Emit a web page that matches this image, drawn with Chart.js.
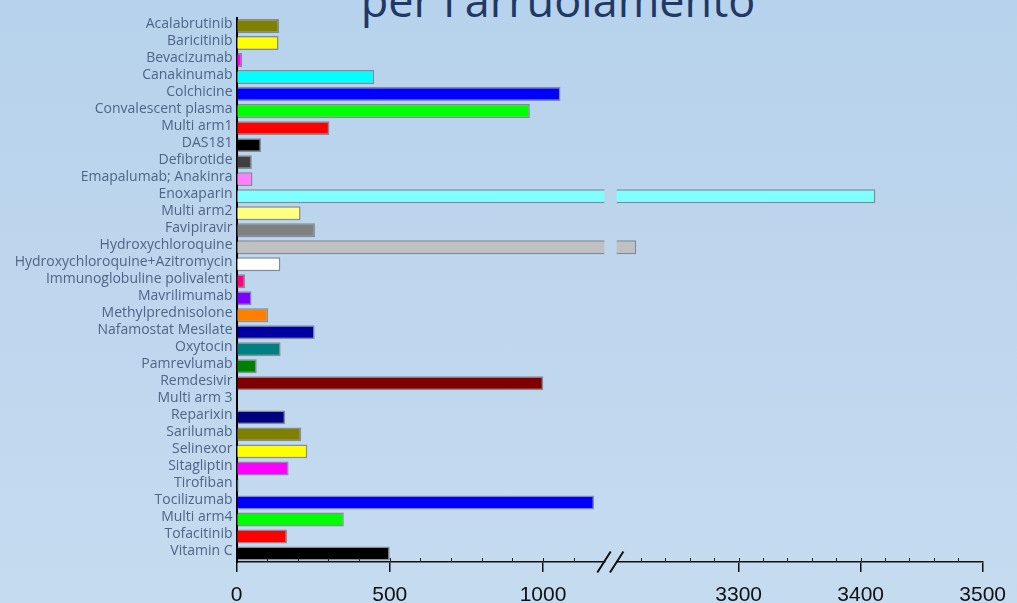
<!DOCTYPE html>
<html>
<head>
    <title>Studi per l'arruolamento</title>
    <script src="https://cdn.jsdelivr.net/npm/chart.js"></script>
    <style>
        body {
            margin: 0;
            width: 1017px;
            height: 603px;
            overflow: hidden;
            position: relative;
            background: linear-gradient(#b7d2ec, #c5dbf0);
        }
        .title {
            position: absolute;
            left: 558px;
            top: -23px;
            transform: translateX(-50%);
            white-space: nowrap;
            font-family: 'Open Sans', sans-serif;
            font-size: 45px;
            line-height: 45px;
            color: #1f3864;
        }
        canvas { position: absolute; left: 0; top: 0; }
    </style>
</head>
<body>
    <div class="title">per l'arruolamento</div>
    <canvas id="leftChart" width="1017" height="603"></canvas>
    <canvas id="rightChart" width="1017" height="603"></canvas>

    <script>
        // Data
        const drugs = [
            'Acalabrutinib', 'Baricitinib', 'Bevacizumab', 'Canakinumab', 'Colchicine',
            'Convalescent plasma', 'Multi arm1', 'DAS181', 'Defibrotide', 'Emapalumab; Anakinra',
            'Enoxaparin', 'Multi arm2', 'Favipiravir', 'Hydroxychloroquine',
            'Hydroxychloroquine+Azitromycin', 'Immunoglobuline polivalenti', 'Mavrilimumab',
            'Methylprednisolone', 'Nafamostat Mesilate', 'Oxytocin', 'Pamrevlumab', 'Remdesivir',
            'Multi arm 3', 'Reparixin', 'Sarilumab', 'Selinexor', 'Sitagliptin', 'Tirofiban',
            'Tocilizumab', 'Multi arm4', 'Tofacitinib', 'Vitamin C'
        ];
        const enrolled = [
            139, 137, 18, 449, 1057,
            957, 303, 80, 50, 52,
            3412, 209, 256, 3216,
            143, 28, 49,
            103, 255, 144, 66, 1001,
            0, 159, 211, 231, 170, 7,
            1167, 350, 165, 500
        ];
        const barColors = [
            '#808000', '#ffff00', '#ff00ff', '#00ffff', '#0000ff',
            '#00ff00', '#ff0000', '#000000', '#404040', '#ff80ff',
            '#80ffff', '#ffff80', '#808080', '#c0c0c0',
            '#ffffff', '#ff0080', '#8000ff',
            '#ff8000', '#0000a0', '#008080', '#008000', '#800000',
            '#000000', '#000080', '#808000', '#ffff00', '#ff00ff', '#00c0c0',
            '#0000ff', '#00ff00', '#ff0000', '#000000'
        ];

        // Broken x axis: two ranges, each with its own labelled ticks
        const leftRange = [0, 1200];
        const rightRange = [3200, 3500];
        const leftTicks = [0, 500, 1000];
        const rightTicks = [3300, 3400, 3500];

        const labelColor = '#4e6585';

        // small upward ticks between the labelled ones
        const minorTicks = {
            id: 'minorTicks',
            afterDraw(chart, args, opts) {
                const x = chart.scales.x;
                const ctx = chart.ctx;
                ctx.save();
                ctx.strokeStyle = '#222';
                ctx.lineWidth = 1;
                ctx.beginPath();
                for (let v = x.min + opts.step; v < x.max; v += opts.step) {
                    const px = Math.round(x.getPixelForValue(v)) + 0.5;
                    ctx.moveTo(px, x.top);
                    ctx.lineTo(px, x.top - 4);
                }
                ctx.stroke();
                ctx.restore();
            }
        };

        // the "//" marks where the axis is cut
        const axisBreak = {
            id: 'axisBreak',
            afterDraw(chart) {
                const x = chart.scales.x;
                const ctx = chart.ctx;
                const y = x.top;
                ctx.save();
                ctx.strokeStyle = '#111';
                ctx.lineWidth = 2;
                ctx.beginPath();
                [x.left - 12.7, x.left].forEach(cx => {
                    ctx.moveTo(cx - 6.7, y + 10.5);
                    ctx.lineTo(cx + 6.7, y - 10.5);
                });
                ctx.stroke();
                ctx.restore();
            }
        };

        function barDataset() {
            return {
                data: enrolled,
                backgroundColor: barColors,
                borderColor: 'rgba(80, 80, 80, 0.55)',
                borderWidth: 1.5,
                barPercentage: 0.82,
                categoryPercentage: 1,
                clip: 0
            };
        }

        function xAxis(range, tickValues) {
            return {
                type: 'linear',
                min: range[0],
                max: range[1],
                afterBuildTicks: s => { s.ticks = tickValues.map(v => ({ value: v })); },
                afterFit: s => { s.height = 41; },
                grid: { drawOnChartArea: false, drawTicks: true, tickLength: 10, color: '#111', lineWidth: 1.5 },
                border: { display: true, color: '#111', width: 1.5 },
                ticks: {
                    color: '#111',
                    font: { family: 'Liberation Sans', size: 21 },
                    padding: 11,
                    maxRotation: 0,
                    callback: v => String(v)
                }
            };
        }

        const common = {
            indexAxis: 'y',
            responsive: false,
            animation: false,
            events: []
        };

        // Left part: 0 - 1200 with the drug names
        const leftChart = new Chart(document.getElementById('leftChart'), {
            type: 'bar',
            data: { labels: drugs, datasets: [barDataset()] },
            options: {
                ...common,
                layout: { padding: { top: 17.5, right: 412.7, bottom: 0, left: 0 } },
                plugins: {
                    legend: { display: false },
                    tooltip: { enabled: false },
                    minorTicks: { step: 100 }
                },
                scales: {
                    x: xAxis(leftRange, leftTicks),
                    y: {
                        afterFit: s => { s.width = 236.5; },
                        grid: { display: false, drawTicks: false },
                        border: { display: true, color: '#000', width: 2 },
                        ticks: {
                            autoSkip: false,
                            color: labelColor,
                            font: { family: 'Open Sans', size: 14 },
                            padding: 4,
                            labelOffset: -2
                        }
                    }
                }
            },
            plugins: [minorTicks]
        });

        // Right part: 3200 - 3500, only the long bars reach it
        const rightChart = new Chart(document.getElementById('rightChart'), {
            type: 'bar',
            data: { labels: drugs, datasets: [barDataset()] },
            options: {
                ...common,
                layout: { padding: { top: 17.5, right: 32.3, bottom: 0, left: 616.7 } },
                plugins: {
                    legend: { display: false },
                    tooltip: { enabled: false },
                    minorTicks: { step: 20 }
                },
                scales: {
                    x: xAxis(rightRange, rightTicks),
                    y: { display: false }
                }
            },
            plugins: [minorTicks, axisBreak]
        });
    </script>
</body>
</html>
